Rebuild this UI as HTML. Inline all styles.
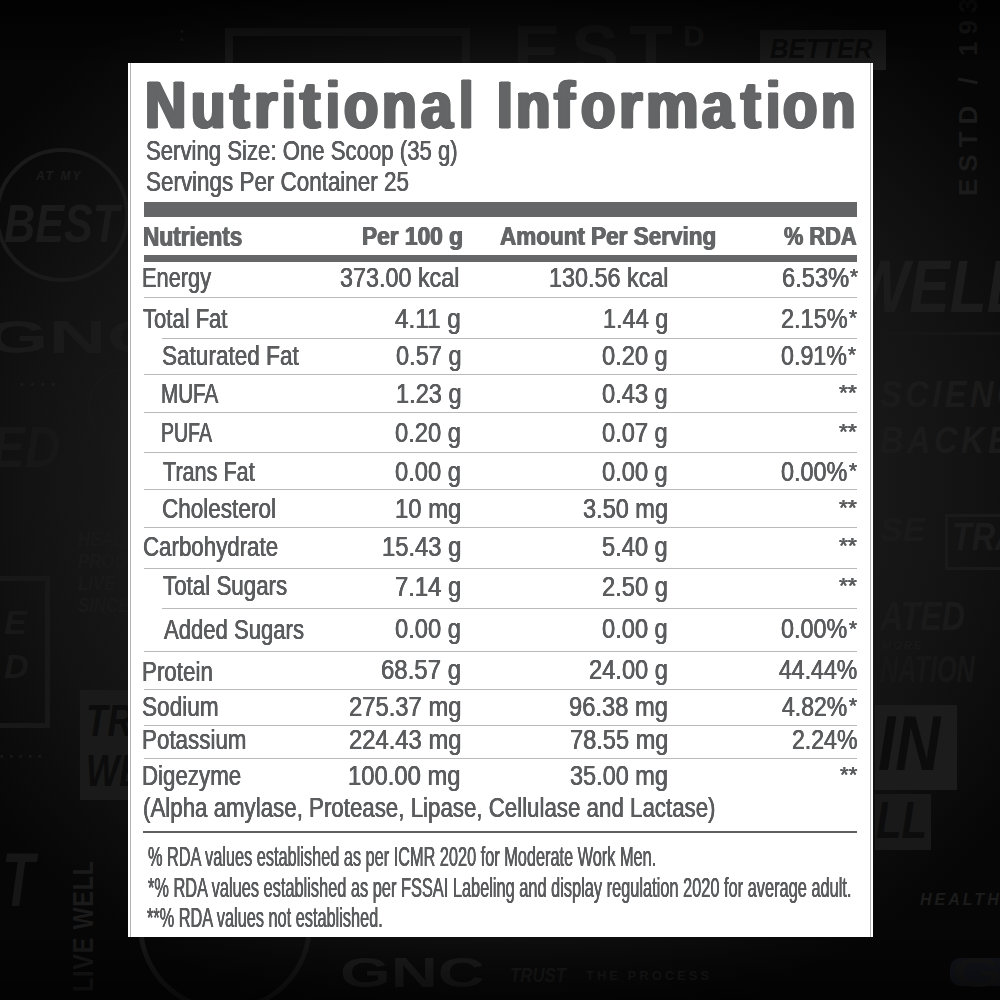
<!DOCTYPE html>
<html lang="en">
<head>
<meta charset="utf-8">
<title>Nutritional Information</title>
<style>
html,body{margin:0;padding:0;}
body{width:1000px;height:1000px;overflow:hidden;position:relative;background:#070707;font-family:"Liberation Sans",sans-serif;}
#bg{position:absolute;left:0;top:0;width:1000px;height:1000px;overflow:hidden;
 background:radial-gradient(ellipse 640px 560px at 500px 480px,#232323 0%,#1d1d1d 45%,#121212 75%,#060606 100%);}
.d{position:absolute;white-space:nowrap;line-height:1;font-weight:700;transform-origin:0 0;}
.d.i{font-style:italic;}
.d.ring{border-radius:50%;}
#panel{position:absolute;left:128px;top:63px;width:745px;height:874px;background:#fff;}
.vl{position:absolute;top:63px;width:1px;height:874px;background:#b4b4b4;}
.bar{position:absolute;left:143.5px;width:713.25px;background:#646667;}
.ln{position:absolute;height:1px;background:#bababa;}
.t{position:absolute;white-space:pre;line-height:1;transform-origin:0 0;color:#5b5c5e;}
.t.b{font-weight:700;color:#636566;text-shadow:-0.7px 0 0 #636566,0.7px 0 0 #636566;}
.t.r{-webkit-text-stroke:0.2px #5b5c5e;text-shadow:-0.3px 0 0 #5b5c5e,0.3px 0 0 #5b5c5e;}
#txt{position:absolute;left:0;top:0;width:1000px;height:1000px;will-change:transform;}
</style>
</head>
<body>
<div id="bg">
<div class="d ring" style="left:-5px;top:148px;width:126px;height:126px;border:4px solid #1a1a1a"></div>
<div class="d i" style="left:36px;top:170px;font-size:12px;letter-spacing:2px;color:#1b1b1b">AT MY</div>
<div class="d i" style="left:4px;top:196px;font-size:54px;color:#1b1b1b;transform:scaleX(.8)">BEST</div>
<div class="d" style="left:-14px;top:314px;font-size:46px;color:#1a1a1a;transform:scaleX(1.75)">GNC</div>
<div class="d" style="left:20px;top:380px;font-size:10px;letter-spacing:7px;color:#1c1c1c">&bull;&bull;&bull;&bull;</div>
<div class="d i" style="left:-8px;top:418px;font-size:58px;color:#171717;transform:scaleX(.85)">ED</div>
<div class="d ring" style="left:88px;top:368px;width:70px;height:74px;border:2px solid #181818"></div>
<div class="d i" style="left:78px;top:528px;font-size:21px;line-height:22px;color:#191919;transform:scaleX(.8)">HEALTH<br>PROD<br>LIVE<br>SINCE</div>
<div class="d" style="left:-12px;top:576px;width:52px;height:142px;border:5px solid #181818"></div>
<div class="d i" style="left:4px;top:600px;font-size:34px;line-height:44px;color:#181818">E<br>D</div>
<div class="d" style="left:80px;top:690px;width:60px;height:110px;background:#1a1a1a"></div>
<div class="d i" style="left:86px;top:696px;font-size:44px;line-height:50px;color:#0c0c0c;transform:scaleX(.8)">TR<br>WE</div>
<div class="d" style="left:0px;top:752px;font-size:10px;letter-spacing:6px;color:#191919">&bull;&bull;&bull;&bull;&bull;</div>
<div class="d i" style="left:2px;top:842px;font-size:76px;color:#161616;transform:scaleX(.7)">T</div>
<div class="d" style="left:68px;top:992px;font-size:30px;color:#1a1a1a;transform:rotate(-90deg) scaleX(.78);letter-spacing:1px">LIVE WELL</div>

<div class="d" style="left:225px;top:28px;width:229px;height:60px;border:8px solid #191919"></div>
<div class="d" style="left:513px;top:15px;font-size:72px;letter-spacing:10px;color:#191919">EST<span style="font-size:30px;vertical-align:30px;letter-spacing:0">D</span></div>
<div class="d" style="left:760px;top:30px;width:126px;height:40px;background:#1b1b1b"></div>
<div class="d i" style="left:770px;top:36px;font-size:27px;color:#0b0b0b;transform:scaleX(.95)">BETTER</div>
<div class="d" style="left:180px;top:28px;font-size:10px;line-height:8px;color:#1a1a1a">&bull;<br>&bull;</div>

<div class="d" style="left:955px;top:196px;font-size:26px;letter-spacing:7px;color:#1b1b1b;transform:rotate(-90deg)">ESTD / 1935</div>
<div class="d i" style="left:852px;top:250px;font-size:74px;color:#1c1c1c;transform:scaleX(.82)">WELL</div>
<div class="d" style="left:873px;top:332px;width:127px;height:3px;background:#161616"></div>
<div class="d i" style="left:880px;top:372px;font-size:36px;line-height:46px;letter-spacing:4px;color:#1b1b1b;transform:scaleX(.9)">SCIENCE<br>BACKED</div>
<div class="d i" style="left:880px;top:512px;font-size:34px;color:#1a1a1a">SE</div>
<div class="d" style="left:945px;top:514px;width:70px;height:50px;border:3px solid #1a1a1a"></div>
<div class="d i" style="left:952px;top:518px;font-size:38px;color:#1b1b1b;transform:scaleX(.85)">TRA</div>
<div class="d i" style="left:880px;top:596px;font-size:40px;color:#1a1a1a;transform:scaleX(.8)">ATED</div>
<div class="d i" style="left:882px;top:640px;font-size:11px;letter-spacing:2px;color:#191919">MORE</div>
<div class="d i" style="left:880px;top:652px;font-size:36px;color:#171717;transform:scaleX(.7)">NATION</div>
<div class="d" style="left:875px;top:705px;width:82px;height:85px;background:#1c1c1c"></div>
<div class="d i" style="left:878px;top:704px;font-size:78px;color:#0c0c0c;transform:scaleX(.8)">IN</div>
<div class="d" style="left:875px;top:794px;width:56px;height:56px;background:#191919"></div>
<div class="d i" style="left:876px;top:794px;font-size:52px;color:#0c0c0c;transform:scaleX(.8)">LL</div>
<div class="d i" style="left:920px;top:892px;font-size:16px;letter-spacing:3px;color:#1c1c1c">HEALTH</div>
<div class="d" style="left:950px;top:958px;width:70px;height:28px;border-radius:10px;background:#14161e"></div>

<div class="d ring" style="left:138px;top:838px;width:164px;height:164px;border:5px solid #181818"></div>
<div class="d" style="left:340px;top:952px;font-size:42px;color:#1f1f1f;transform:scaleX(1.55)">GNC</div>
<div class="d i" style="left:510px;top:964px;font-size:21px;color:#1c1c1c;transform:scaleX(.8)">TRUST</div>
<div class="d" style="left:586px;top:969px;font-size:13px;letter-spacing:3px;color:#1c1c1c">THE PROCESS</div>
<div class="d" style="left:952px;top:952px;font-size:42px;color:#181818;transform:scaleX(1.55)">G</div>
<div class="d" style="left:0;top:0;width:1000px;height:70px;background:linear-gradient(to bottom,rgba(0,0,0,.75),rgba(0,0,0,0))"></div>
<div class="d" style="left:0;top:930px;width:1000px;height:70px;background:linear-gradient(to top,rgba(0,0,0,.6),rgba(0,0,0,0))"></div>

</div>
<div id="panel"></div>
<div class="vl" style="left:130px"></div>
<div class="vl" style="left:870px"></div>
<div class="bar" style="top:202.3px;height:14.7px"></div>
<div class="bar" style="top:254.6px;height:7.1px"></div>
<div class="ln" style="left:143.5px;top:297.10px;width:713.0px"></div>
<div class="ln" style="left:162px;top:338.10px;width:694.5px"></div>
<div class="ln" style="left:143.5px;top:374.00px;width:713.0px"></div>
<div class="ln" style="left:143.5px;top:411.60px;width:713.0px"></div>
<div class="ln" style="left:143.5px;top:451.50px;width:713.0px"></div>
<div class="ln" style="left:143.5px;top:488.90px;width:713.0px"></div>
<div class="ln" style="left:143.5px;top:527.10px;width:713.0px"></div>
<div class="ln" style="left:143.5px;top:567.80px;width:713.0px"></div>
<div class="ln" style="left:162px;top:607.50px;width:694.5px"></div>
<div class="ln" style="left:143.5px;top:650.80px;width:713.0px"></div>
<div class="ln" style="left:143.5px;top:688.70px;width:713.0px"></div>
<div class="ln" style="left:143.5px;top:725.10px;width:713.0px"></div>
<div class="ln" style="left:143.5px;top:758.10px;width:713.0px"></div>
<div class="ln" style="left:143px;top:831px;width:713.5px;height:2px;background:#5e5f61"></div>
<div id="txt">
<span class="t b" style="left:145.20px;top:71.112px;font-size:67.14px;transform:scaleX(0.8524);text-shadow:-2.0px 0 0 #636566,2.0px 0 0 #636566,-1.0px 0 0 #636566,1.0px 0 0 #636566;-webkit-text-stroke:1.2px #636566">N</span>
<span class="t b" style="left:191.10px;top:71.112px;font-size:67.14px;transform:scaleX(0.8394);text-shadow:-2.0px 0 0 #636566,2.0px 0 0 #636566,-1.0px 0 0 #636566,1.0px 0 0 #636566;-webkit-text-stroke:1.2px #636566">u</span>
<span class="t b" style="left:229.98px;top:71.112px;font-size:67.14px;transform:scaleX(0.8688);text-shadow:-2.0px 0 0 #636566,2.0px 0 0 #636566,-1.0px 0 0 #636566,1.0px 0 0 #636566;-webkit-text-stroke:1.2px #636566">t</span>
<span class="t b" style="left:254.32px;top:71.112px;font-size:67.14px;transform:scaleX(0.8957);text-shadow:-2.0px 0 0 #636566,2.0px 0 0 #636566,-1.0px 0 0 #636566,1.0px 0 0 #636566;-webkit-text-stroke:1.2px #636566">r</span>
<span class="t b" style="left:281.98px;top:71.112px;font-size:67.14px;transform:scaleX(0.7260);text-shadow:-2.0px 0 0 #636566,2.0px 0 0 #636566,-1.0px 0 0 #636566,1.0px 0 0 #636566;-webkit-text-stroke:1.2px #636566">i</span>
<span class="t b" style="left:300.14px;top:71.112px;font-size:67.14px;transform:scaleX(0.9034);text-shadow:-2.0px 0 0 #636566,2.0px 0 0 #636566,-1.0px 0 0 #636566,1.0px 0 0 #636566;-webkit-text-stroke:1.2px #636566">t</span>
<span class="t b" style="left:326.15px;top:71.112px;font-size:67.14px;transform:scaleX(0.7397);text-shadow:-2.0px 0 0 #636566,2.0px 0 0 #636566,-1.0px 0 0 #636566,1.0px 0 0 #636566;-webkit-text-stroke:1.2px #636566">i</span>
<span class="t b" style="left:343.83px;top:71.112px;font-size:67.14px;transform:scaleX(0.8361);text-shadow:-2.0px 0 0 #636566,2.0px 0 0 #636566,-1.0px 0 0 #636566,1.0px 0 0 #636566;-webkit-text-stroke:1.2px #636566">o</span>
<span class="t b" style="left:381.81px;top:71.112px;font-size:67.14px;transform:scaleX(0.8447);text-shadow:-2.0px 0 0 #636566,2.0px 0 0 #636566,-1.0px 0 0 #636566,1.0px 0 0 #636566;-webkit-text-stroke:1.2px #636566">n</span>
<span class="t b" style="left:420.50px;top:71.112px;font-size:67.14px;transform:scaleX(0.8463);text-shadow:-2.0px 0 0 #636566,2.0px 0 0 #636566,-1.0px 0 0 #636566,1.0px 0 0 #636566;-webkit-text-stroke:1.2px #636566">a</span>
<span class="t b" style="left:459.17px;top:71.112px;font-size:67.14px;transform:scaleX(0.7740);text-shadow:-2.0px 0 0 #636566,2.0px 0 0 #636566,-1.0px 0 0 #636566,1.0px 0 0 #636566;-webkit-text-stroke:1.2px #636566">l</span>
<span class="t b" style="left:496.52px;top:71.112px;font-size:67.14px;transform:scaleX(0.8369);text-shadow:-2.0px 0 0 #636566,2.0px 0 0 #636566,-1.0px 0 0 #636566,1.0px 0 0 #636566;-webkit-text-stroke:1.2px #636566">I</span>
<span class="t b" style="left:515.72px;top:71.112px;font-size:67.14px;transform:scaleX(0.8394);text-shadow:-2.0px 0 0 #636566,2.0px 0 0 #636566,-1.0px 0 0 #636566,1.0px 0 0 #636566;-webkit-text-stroke:1.2px #636566">n</span>
<span class="t b" style="left:553.97px;top:71.112px;font-size:67.14px;transform:scaleX(0.9256);text-shadow:-2.0px 0 0 #636566,2.0px 0 0 #636566,-1.0px 0 0 #636566,1.0px 0 0 #636566;-webkit-text-stroke:1.2px #636566">f</span>
<span class="t b" style="left:580.73px;top:71.112px;font-size:67.14px;transform:scaleX(0.8361);text-shadow:-2.0px 0 0 #636566,2.0px 0 0 #636566,-1.0px 0 0 #636566,1.0px 0 0 #636566;-webkit-text-stroke:1.2px #636566">o</span>
<span class="t b" style="left:618.82px;top:71.112px;font-size:67.14px;transform:scaleX(0.8957);text-shadow:-2.0px 0 0 #636566,2.0px 0 0 #636566,-1.0px 0 0 #636566,1.0px 0 0 #636566;-webkit-text-stroke:1.2px #636566">r</span>
<span class="t b" style="left:645.95px;top:71.112px;font-size:67.14px;transform:scaleX(0.8787);text-shadow:-2.0px 0 0 #636566,2.0px 0 0 #636566,-1.0px 0 0 #636566,1.0px 0 0 #636566;-webkit-text-stroke:1.2px #636566">m</span>
<span class="t b" style="left:702.49px;top:71.112px;font-size:67.14px;transform:scaleX(0.8414);text-shadow:-2.0px 0 0 #636566,2.0px 0 0 #636566,-1.0px 0 0 #636566,1.0px 0 0 #636566;-webkit-text-stroke:1.2px #636566">a</span>
<span class="t b" style="left:740.69px;top:71.112px;font-size:67.14px;transform:scaleX(0.8765);text-shadow:-2.0px 0 0 #636566,2.0px 0 0 #636566,-1.0px 0 0 #636566,1.0px 0 0 #636566;-webkit-text-stroke:1.2px #636566">t</span>
<span class="t b" style="left:765.59px;top:71.112px;font-size:67.14px;transform:scaleX(0.7671);text-shadow:-2.0px 0 0 #636566,2.0px 0 0 #636566,-1.0px 0 0 #636566,1.0px 0 0 #636566;-webkit-text-stroke:1.2px #636566">i</span>
<span class="t b" style="left:783.13px;top:71.112px;font-size:67.14px;transform:scaleX(0.8361);text-shadow:-2.0px 0 0 #636566,2.0px 0 0 #636566,-1.0px 0 0 #636566,1.0px 0 0 #636566;-webkit-text-stroke:1.2px #636566">o</span>
<span class="t b" style="left:821.32px;top:71.112px;font-size:67.14px;transform:scaleX(0.8394);text-shadow:-2.0px 0 0 #636566,2.0px 0 0 #636566,-1.0px 0 0 #636566,1.0px 0 0 #636566;-webkit-text-stroke:1.2px #636566">n</span>
<span class="t r" style="left:146.33px;top:138.101px;font-size:26.96px;transform:scaleX(0.8222)">Serving Size: One Scoop (35 g)</span>
<span class="t r" style="left:146.32px;top:169.101px;font-size:26.96px;transform:scaleX(0.8316)">Servings Per Container 25</span>
<span class="t b" style="left:142.72px;top:224.101px;font-size:26.96px;transform:scaleX(0.8399)">Nutrients</span>
<span class="t b" style="left:361.92px;top:223.114px;font-size:26.52px;transform:scaleX(0.8564)">Per 100 g</span>
<span class="t b" style="left:500.43px;top:223.114px;font-size:26.52px;transform:scaleX(0.8483)">Amount Per Serving</span>
<span class="t b" style="left:783.83px;top:223.114px;font-size:26.52px;transform:scaleX(0.8214)">% RDA</span>
<span class="t r" style="left:142.18px;top:265.103px;font-size:26.81px;transform:scaleX(0.8130)">Energy</span>
<span class="t r" style="left:340.41px;top:265.103px;font-size:26.81px;transform:scaleX(0.8715)">373.00 kcal</span>
<span class="t r" style="left:548.60px;top:265.103px;font-size:26.81px;transform:scaleX(0.8720)">130.56 kcal</span>
<span class="t r" style="left:781.67px;top:265.103px;font-size:26.81px;transform:scaleX(0.8842)">6.53%</span>
<span class="t r" style="left:849.86px;top:266.112px;font-size:22.61px;transform:scaleX(0.9173)">*</span>
<span class="t r" style="left:142.89px;top:306.103px;font-size:26.81px;transform:scaleX(0.8219)">Total Fat</span>
<span class="t r" style="left:395.38px;top:306.103px;font-size:26.81px;transform:scaleX(0.9079)">4.11 g</span>
<span class="t r" style="left:602.84px;top:306.103px;font-size:26.81px;transform:scaleX(0.8767)">1.44 g</span>
<span class="t r" style="left:781.17px;top:306.103px;font-size:26.81px;transform:scaleX(0.8775)">2.15%</span>
<span class="t r" style="left:848.86px;top:307.112px;font-size:22.61px;transform:scaleX(0.9173)">*</span>
<span class="t r" style="left:161.82px;top:343.103px;font-size:26.81px;transform:scaleX(0.8421)">Saturated Fat</span>
<span class="t r" style="left:395.66px;top:343.103px;font-size:26.81px;transform:scaleX(0.8791)">0.57 g</span>
<span class="t r" style="left:602.41px;top:343.103px;font-size:26.81px;transform:scaleX(0.8826)">0.20 g</span>
<span class="t r" style="left:781.42px;top:343.103px;font-size:26.81px;transform:scaleX(0.8677)">0.91%</span>
<span class="t r" style="left:848.36px;top:344.112px;font-size:22.61px;transform:scaleX(0.9173)">*</span>
<span class="t r" style="left:161.16px;top:381.103px;font-size:26.81px;transform:scaleX(0.7700)">MUFA</span>
<span class="t r" style="left:395.58px;top:381.103px;font-size:26.81px;transform:scaleX(0.8802)">1.23 g</span>
<span class="t r" style="left:602.41px;top:381.103px;font-size:26.81px;transform:scaleX(0.8826)">0.43 g</span>
<span class="t r" style="left:838.81px;top:382.112px;font-size:22.61px;transform:scaleX(1.0137)">**</span>
<span class="t r" style="left:161.23px;top:420.103px;font-size:26.81px;transform:scaleX(0.7286)">PUFA</span>
<span class="t r" style="left:395.15px;top:420.103px;font-size:26.81px;transform:scaleX(0.8860)">0.20 g</span>
<span class="t r" style="left:602.41px;top:420.103px;font-size:26.81px;transform:scaleX(0.8826)">0.07 g</span>
<span class="t r" style="left:838.81px;top:421.112px;font-size:22.61px;transform:scaleX(1.0137)">**</span>
<span class="t r" style="left:163.14px;top:459.103px;font-size:26.81px;transform:scaleX(0.8062)">Trans Fat</span>
<span class="t r" style="left:395.15px;top:459.103px;font-size:26.81px;transform:scaleX(0.8860)">0.00 g</span>
<span class="t r" style="left:602.41px;top:459.103px;font-size:26.81px;transform:scaleX(0.8826)">0.00 g</span>
<span class="t r" style="left:781.41px;top:459.103px;font-size:26.81px;transform:scaleX(0.8744)">0.00%</span>
<span class="t r" style="left:848.86px;top:460.112px;font-size:22.61px;transform:scaleX(0.9173)">*</span>
<span class="t r" style="left:161.71px;top:496.103px;font-size:26.81px;transform:scaleX(0.8406)">Cholesterol</span>
<span class="t r" style="left:394.82px;top:496.103px;font-size:26.81px;transform:scaleX(0.8906)">10 mg</span>
<span class="t r" style="left:583.16px;top:496.103px;font-size:26.81px;transform:scaleX(0.8785)">3.50 mg</span>
<span class="t r" style="left:838.81px;top:497.112px;font-size:22.61px;transform:scaleX(1.0137)">**</span>
<span class="t r" style="left:142.97px;top:534.103px;font-size:26.81px;transform:scaleX(0.8322)">Carbohydrate</span>
<span class="t r" style="left:381.82px;top:534.103px;font-size:26.81px;transform:scaleX(0.8877)">15.43 g</span>
<span class="t r" style="left:602.41px;top:534.103px;font-size:26.81px;transform:scaleX(0.8826)">5.40 g</span>
<span class="t r" style="left:838.81px;top:535.112px;font-size:22.61px;transform:scaleX(1.0137)">**</span>
<span class="t r" style="left:163.14px;top:573.103px;font-size:26.81px;transform:scaleX(0.8340)">Total Sugars</span>
<span class="t r" style="left:394.91px;top:574.103px;font-size:26.81px;transform:scaleX(0.8893)">7.14 g</span>
<span class="t r" style="left:602.17px;top:574.103px;font-size:26.81px;transform:scaleX(0.8858)">2.50 g</span>
<span class="t r" style="left:838.81px;top:575.112px;font-size:22.61px;transform:scaleX(1.0137)">**</span>
<span class="t r" style="left:163.58px;top:617.103px;font-size:26.81px;transform:scaleX(0.8243)">Added Sugars</span>
<span class="t r" style="left:395.15px;top:616.103px;font-size:26.81px;transform:scaleX(0.8860)">0.00 g</span>
<span class="t r" style="left:602.41px;top:616.103px;font-size:26.81px;transform:scaleX(0.8826)">0.00 g</span>
<span class="t r" style="left:781.41px;top:616.103px;font-size:26.81px;transform:scaleX(0.8710)">0.00%</span>
<span class="t r" style="left:848.61px;top:618.112px;font-size:22.61px;transform:scaleX(0.9173)">*</span>
<span class="t r" style="left:142.29px;top:659.103px;font-size:26.81px;transform:scaleX(0.8347)">Protein</span>
<span class="t r" style="left:381.16px;top:657.103px;font-size:26.81px;transform:scaleX(0.8952)">68.57 g</span>
<span class="t r" style="left:589.17px;top:657.103px;font-size:26.81px;transform:scaleX(0.8838)">24.00 g</span>
<span class="t r" style="left:779.13px;top:657.103px;font-size:26.81px;transform:scaleX(0.8606)">44.44%</span>
<span class="t r" style="left:142.32px;top:694.103px;font-size:26.81px;transform:scaleX(0.8439)">Sodium</span>
<span class="t r" style="left:348.66px;top:694.103px;font-size:26.81px;transform:scaleX(0.8883)">275.37 mg</span>
<span class="t r" style="left:569.29px;top:694.103px;font-size:26.81px;transform:scaleX(0.8846)">96.38 mg</span>
<span class="t r" style="left:782.38px;top:694.103px;font-size:26.81px;transform:scaleX(0.8582)">4.82%</span>
<span class="t r" style="left:848.61px;top:695.112px;font-size:22.61px;transform:scaleX(0.9173)">*</span>
<span class="t r" style="left:142.29px;top:727.103px;font-size:26.81px;transform:scaleX(0.8353)">Potassium</span>
<span class="t r" style="left:348.66px;top:727.103px;font-size:26.81px;transform:scaleX(0.8883)">224.43 mg</span>
<span class="t r" style="left:569.67px;top:727.103px;font-size:26.81px;transform:scaleX(0.8812)">78.55 mg</span>
<span class="t r" style="left:791.69px;top:727.103px;font-size:26.81px;transform:scaleX(0.8621)">2.24%</span>
<span class="t r" style="left:142.30px;top:763.103px;font-size:26.81px;transform:scaleX(0.8318)">Digezyme</span>
<span class="t r" style="left:348.07px;top:763.103px;font-size:26.81px;transform:scaleX(0.8891)">100.00 mg</span>
<span class="t r" style="left:570.16px;top:763.103px;font-size:26.81px;transform:scaleX(0.8767)">35.00 mg</span>
<span class="t r" style="left:839.56px;top:764.112px;font-size:22.61px;transform:scaleX(0.9855)">**</span>
<span class="t r" style="left:143.24px;top:795.103px;font-size:26.81px;transform:scaleX(0.8319)">(Alpha amylase, Protease, Lipase, Cellulase and Lactase)</span>
<span class="t r" style="left:148.06px;top:843.105px;font-size:27.97px;transform:scaleX(0.5831)">% RDA values established as per ICMR 2020 for Moderate Work Men.</span>
<span class="t r" style="left:147.79px;top:874.105px;font-size:27.97px;transform:scaleX(0.5853)">*% RDA values established as per FSSAI Labeling and display regulation 2020 for average adult.</span>
<span class="t r" style="left:147.49px;top:904.105px;font-size:27.97px;transform:scaleX(0.5833)">**% RDA values not established.</span>
</div>
</body>
</html>
